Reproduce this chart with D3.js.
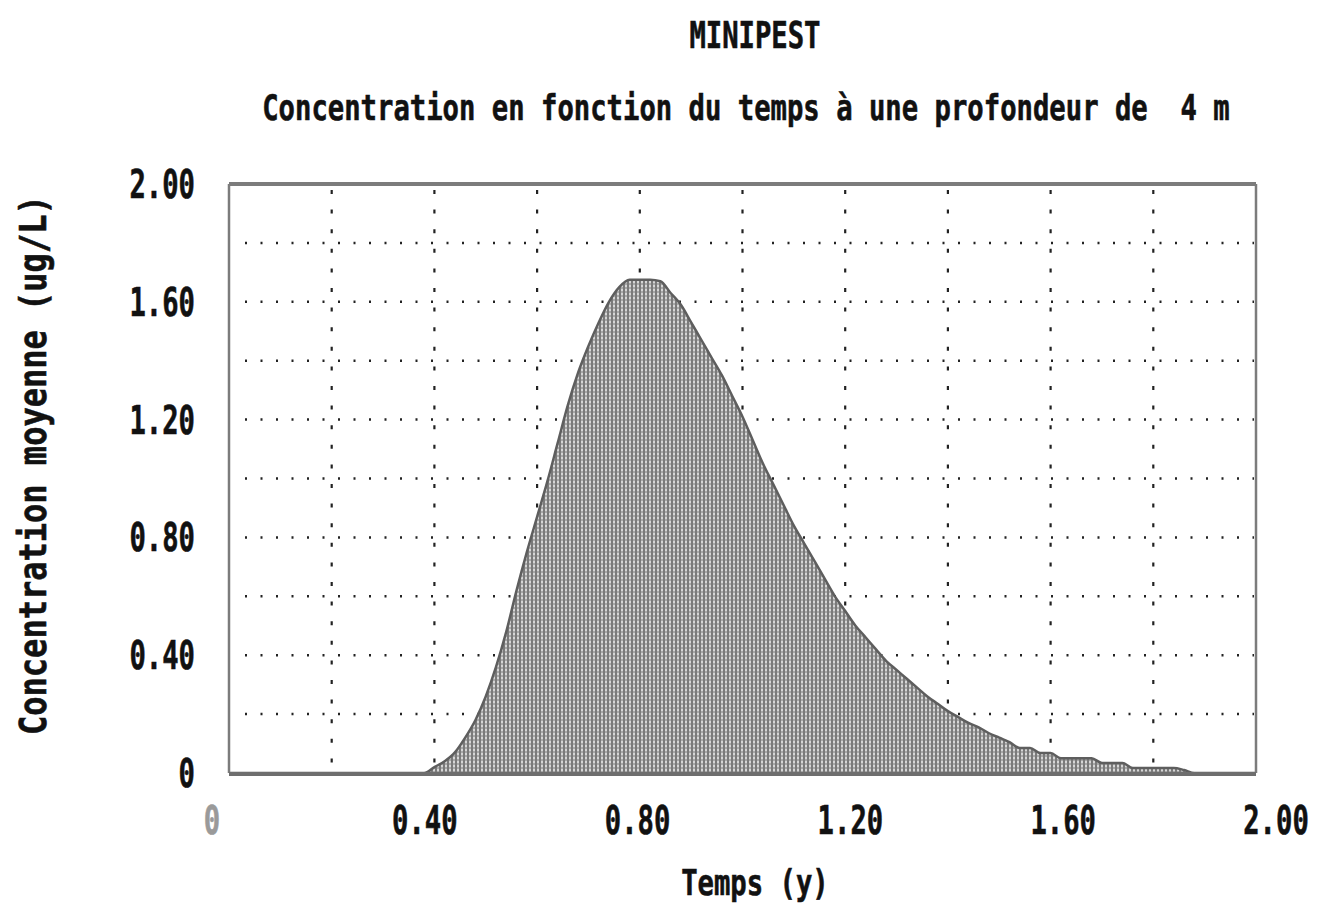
<!DOCTYPE html>
<html>
<head>
<meta charset="utf-8">
<script src="https://cdn.jsdelivr.net/npm/d3@7"></script>
<style>
  html, body { margin: 0; padding: 0; background: #fff; }
  text { font-family: "DejaVu Sans Mono", monospace; font-weight: bold; fill: #111; white-space: pre; stroke: #111; stroke-width: 0.6; }
</style>
</head>
<body>
<svg id="chart" width="1319" height="920"></svg>
<script>
// ---- data ----
const titleText = "MINIPEST";
const subtitleText = "Concentration en fonction du temps à une profondeur de  4 m";
const xTitle = "Temps (y)";
const yTitle = "Concentration moyenne (ug/L)";

const yTickValues = [0, 0.4, 0.8, 1.2, 1.6, 2.0];
const yTickLabels = ["0", "0.40", "0.80", "1.20", "1.60", "2.00"];
const xTickValues = [0, 0.4, 0.8, 1.2, 1.6, 2.0];
const xTickLabels = ["0", "0.40", "0.80", "1.20", "1.60", "2.00"];
const gridValues = [0.2, 0.4, 0.6, 0.8, 1.0, 1.2, 1.4, 1.6, 1.8];

const times = [0, 0.38, 0.40, 0.42, 0.44, 0.46, 0.48, 0.50, 0.52, 0.54, 0.56, 0.58,
  0.60, 0.62, 0.64, 0.66, 0.68, 0.70, 0.72, 0.74, 0.76, 0.78, 0.80, 0.82, 0.84, 0.86,
  0.88, 0.90, 0.92, 0.94, 0.96, 0.98, 1.00, 1.02, 1.04, 1.06, 1.08, 1.10, 1.12, 1.14,
  1.16, 1.18, 1.20, 1.22, 1.24, 1.26, 1.28, 1.30, 1.32, 1.34, 1.36, 1.38, 1.40, 1.42,
  1.44, 1.46, 1.48, 1.50, 1.52, 1.54, 1.56, 1.58, 1.60, 1.62, 1.64, 1.66, 1.68, 1.70,
  1.72, 1.74, 1.76, 1.78, 1.80, 1.82, 1.84, 1.86, 1.88, 2.00];
const concentration = [0, 0, 0.02, 0.04, 0.07, 0.12, 0.18, 0.26, 0.36, 0.48, 0.62, 0.75,
  0.87, 0.99, 1.12, 1.25, 1.36, 1.45, 1.53, 1.60, 1.65, 1.675, 1.675, 1.675, 1.67, 1.63,
  1.59, 1.53, 1.47, 1.41, 1.35, 1.28, 1.21, 1.13, 1.05, 0.98, 0.91, 0.84, 0.78, 0.72,
  0.66, 0.60, 0.55, 0.50, 0.46, 0.42, 0.38, 0.35, 0.32, 0.29, 0.26, 0.235, 0.21, 0.19,
  0.17, 0.155, 0.135, 0.12, 0.105, 0.085, 0.085, 0.068, 0.068, 0.05, 0.05, 0.05, 0.05, 0.034,
  0.034, 0.034, 0.017, 0.017, 0.017, 0.017, 0.017, 0.01, 0, 0];

// ---- layout ----
const plot = { left: 229, right: 1256, top: 184, bottom: 773 };
const charW = 16.4;

const svg = d3.select("#chart");
const x = d3.scaleLinear().domain([0, 2]).range([plot.left, plot.right]);
const y = d3.scaleLinear().domain([0, 2]).range([plot.bottom, plot.top]);
const xLabel = d3.scaleLinear().domain([0, 2]).range([212, 1276]);

// pattern for filled area
const defs = svg.append("defs");
const pat = defs.append("pattern").attr("id", "dots").attr("patternUnits", "userSpaceOnUse")
  .attr("width", 4).attr("height", 4);
pat.append("rect").attr("width", 4).attr("height", 4).attr("fill", "#7a7a7a");
pat.append("rect").attr("x", 1).attr("y", 0.5).attr("width", 2).attr("height", 3).attr("fill", "#d6d6d6");

// grid
const grid = svg.append("g").attr("fill", "none").attr("stroke", "#222");
grid.selectAll("line.h").data(gridValues).join("line")
  .attr("x1", plot.left + 16).attr("x2", plot.right - 2)
  .attr("y1", d => y(d)).attr("y2", d => y(d))
  .attr("stroke-width", 2.5).attr("stroke-dasharray", "2,13.5");
grid.selectAll("line.v").data(gridValues).join("line")
  .attr("x1", d => x(d)).attr("x2", d => x(d))
  .attr("y1", plot.top + 6).attr("y2", plot.bottom - 2)
  .attr("stroke-width", 2.2).attr("stroke-dasharray", "4,15.6");

// area
const pts = times.map((t, i) => [t, concentration[i]]);
const area = d3.area().x(d => x(d[0])).y0(y(0)).y1(d => y(d[1])).curve(d3.curveMonotoneX);
const line = d3.line().x(d => x(d[0])).y(d => y(d[1])).curve(d3.curveMonotoneX);
svg.append("path").datum(pts).attr("d", area).attr("fill", "url(#dots)");
svg.append("path").datum(pts).attr("d", line).attr("fill", "none")
  .attr("stroke", "#5e5e5e").attr("stroke-width", 2.5);

// frame
const frame = svg.append("g").attr("stroke", "#7c7c7c").attr("fill", "none");
frame.append("line").attr("x1", x(0)).attr("x2", x(2)).attr("y1", y(2)).attr("y2", y(2)).attr("stroke-width", 4);
frame.append("line").attr("x1", x(0)).attr("x2", x(0)).attr("y1", y(2)).attr("y2", y(0)).attr("stroke-width", 2.5);
frame.append("line").attr("x1", x(2)).attr("x2", x(2)).attr("y1", y(2)).attr("y2", y(0)).attr("stroke-width", 2.5);
frame.append("line").attr("x1", x(0)).attr("x2", x(2)).attr("y1", y(0) + 1).attr("y2", y(0) + 1)
  .attr("stroke-width", 4).attr("stroke", "#6e6e6e");

// condensed text helper: scale horizontally to a target width
function addText(str, px, py, opts = {}) {
  const t = svg.append("text")
    .attr("x", 0).attr("y", 0)
    .attr("font-size", opts.size || 36)
    .text(str);
  if (opts.color) t.style("fill", opts.color).style("stroke", opts.color);
  const natural = t.node().getComputedTextLength();
  const target = opts.len || str.length * charW;
  const sx = target / natural;
  let ax = px;
  if (opts.anchor === "end") ax = px - target;
  else if (opts.anchor !== "start") ax = px - target / 2;
  const rot = opts.rotate ? " rotate(-90)" : "";
  if (opts.rotate) {
    // px = baseline x, py = center y along vertical
    t.attr("transform", `translate(${px},${py + target / 2}) rotate(-90) scale(${sx},1)`);
  } else {
    t.attr("transform", `translate(${ax},${py}) scale(${sx},1)`);
  }
  return t;
}

// y tick labels
yTickValues.forEach((v, i) => addText(yTickLabels[i], 195, y(v) + 14, { size: 39, anchor: "end" }));
// x tick labels
xTickValues.forEach((v, i) => addText(xTickLabels[i], xLabel(v), 834, { size: 39, color: i === 0 ? "#9a9a9a" : null }));

// titles
addText(titleText, 755, 48, { size: 37 });
addText(subtitleText, 746, 120, { size: 35 });
addText(xTitle, 755, 895, { size: 36 });
addText(yTitle, 46, 465, { size: 38, len: 540, rotate: true });
</script>
</body>
</html>
